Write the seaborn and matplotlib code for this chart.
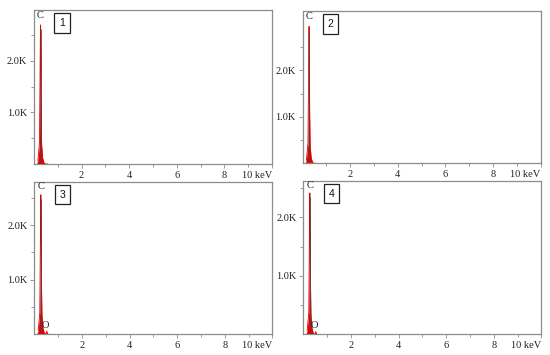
import matplotlib
matplotlib.use("Agg")
import matplotlib.pyplot as plt
import matplotlib.transforms as mtransforms
from matplotlib.ticker import FixedLocator
import seaborn as sns
import pandas as pd

sns.set_style("white")
plt.rcParams["font.family"] = ["Liberation Serif", "DejaVu Serif"]

# ---- data ----
energy_kev = [0.0, 0.10, 0.16, 0.20, 0.23, 0.25, 0.265, 0.275, 0.285, 0.30,
              0.32, 0.36, 0.42, 0.48, 0.505, 0.525, 0.545, 0.58, 1.0, 10.0]
counts_1 = [0, 0, 60, 250, 420, 1500, 2400, 2700, 2300, 1000,
            380, 120, 20, 0, 0, 0, 0, 0, 0, 0]
counts_2 = [0, 0, 60, 260, 440, 1650, 2650, 2950, 2500, 1100,
            400, 130, 20, 0, 0, 0, 0, 0, 0, 0]
counts_3 = [0, 0, 60, 240, 400, 1450, 2300, 2560, 2200, 950,
            360, 110, 20, 0, 10, 55, 10, 0, 0, 0]
counts_4 = [0, 0, 55, 230, 380, 1350, 2150, 2420, 2050, 900,
            340, 110, 20, 0, 10, 50, 10, 0, 0, 0]
panel_labels = ["1", "2", "3", "4"]
y_limits = [2990, 3280, 2800, 2630]
peak_c_energy = 0.275
peak_o_energy = 0.525
show_o = [False, False, True, True]
x_major = [2, 4, 6, 8, 10]
x_tick_labels = ["2", "4", "6", "8", "10 keV"]
y_major = [1000, 2000]
y_tick_labels = ["1.0K", "2.0K"]

all_counts = [counts_1, counts_2, counts_3, counts_4]

W, H = 550, 355
fig = plt.figure(figsize=(W / 100, H / 100), dpi=100)
fig.patch.set_facecolor("white")

# panel boxes in pixels: left, top, right, bottom
boxes = [(34, 10, 272, 164), (302.5, 11, 540.5, 163.3),
         (34.3, 181.7, 272.3, 334), (303.3, 180.7, 541.3, 334.3)]

red = "#e00000"
spine_col = "#8c8c8c"

for i, (l, t, r, b) in enumerate(boxes):
    ax = fig.add_axes([l / W, 1 - b / H, (r - l) / W, (b - t) / H])
    df = pd.DataFrame({"energy": energy_kev, "counts": all_counts[i]})
    ax.fill_between(df["energy"], 0, df["counts"], color=red, lw=0, zorder=2)
    peak_df = df[(df["energy"] > 0.1) & (df["energy"] < 0.6)]
    sns.lineplot(data=peak_df, x="energy", y="counts", ax=ax, color=red,
                 lw=0.6, zorder=3, estimator=None, sort=False)
    peak = max(all_counts[i])
    ax.vlines(peak_c_energy, 0, peak * 0.97, color="#4a4a4a", lw=0.55, zorder=4)
    ax.set_xlim(0, 10)
    ax.set_ylim(0, y_limits[i])
    ax.set_xlabel("")
    ax.set_ylabel("")

    ax.xaxis.set_major_locator(FixedLocator(x_major))
    ax.set_xticklabels(x_tick_labels)
    ax.xaxis.set_minor_locator(FixedLocator([1, 3, 5, 7, 9]))
    ax.yaxis.set_major_locator(FixedLocator(y_major))
    ax.set_yticklabels(y_tick_labels)
    ax.yaxis.set_minor_locator(FixedLocator([500, 1500, 2500]))
    lab = ax.get_xticklabels()[-1]
    lab.set_horizontalalignment("right")

    ax.tick_params(axis="both", which="major", length=3, width=0.6,
                   color=spine_col, labelsize=7.5, labelcolor="#222222", pad=2,
                   direction="out")
    ax.tick_params(axis="both", which="minor", length=2, width=0.6,
                   color=spine_col, direction="out")
    ax.tick_params(axis="x", which="both", bottom=True)
    ax.tick_params(axis="y", which="both", left=True)
    for s in ax.spines.values():
        s.set_visible(True)
        s.set_color(spine_col)
        s.set_linewidth(0.9)

    trans = mtransforms.blended_transform_factory(ax.transData, ax.transAxes)
    ax.text(peak_c_energy, 0.995, "C", transform=trans, ha="center", va="top",
            fontsize=7.5, color="#222222", zorder=5)
    if show_o[i]:
        ax.text(peak_o_energy - 0.05, 0.025, "O", transform=trans, ha="center",
                va="bottom", fontsize=7.5, color="#222222", zorder=5)

    ax.text(0.118, 0.915, panel_labels[i], transform=ax.transAxes,
            ha="center", va="center", fontsize=7.5,
            family=["Liberation Sans", "DejaVu Sans"], color="#111111",
            bbox=dict(boxstyle="square,pad=0.45", fc="white", ec="#222222",
                      lw=0.9))

fig.savefig("out.png", dpi=100, facecolor="white")
